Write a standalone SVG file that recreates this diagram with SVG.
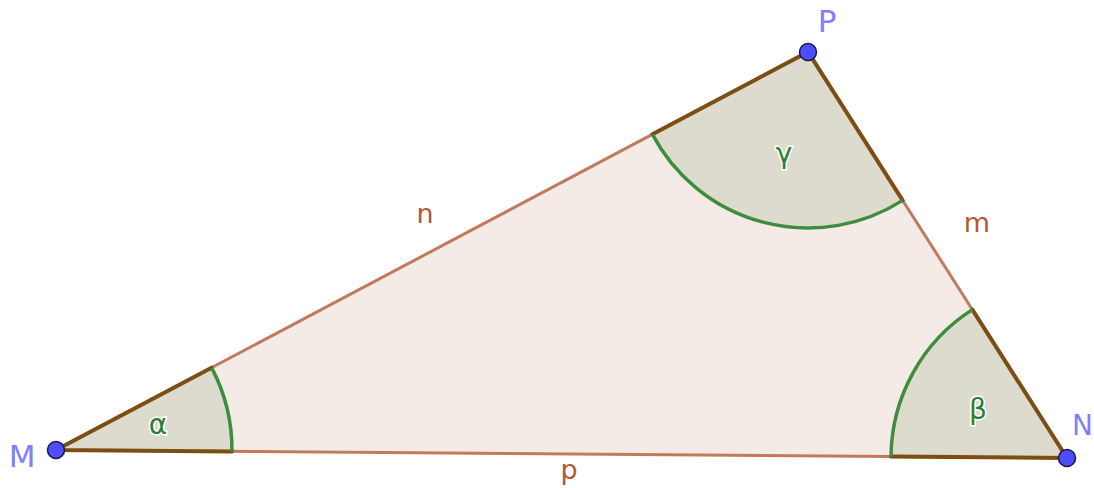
<svg xmlns="http://www.w3.org/2000/svg" width="1094" height="488" viewBox="0 0 1094 488">
<style>
.side{stroke:#c27a5c;stroke-width:3;fill:none;stroke-linecap:round}
.wedge{fill:#dcdbcd;stroke:none}
.leg{stroke:#7d4e14;stroke-width:4;fill:none;stroke-linecap:round}
.arc{stroke:#3e8d3e;stroke-width:3.5;fill:none}
.pt{fill:#4d4dff;stroke:#1a1a40;stroke-width:1.5}
.vl{font-family:"DejaVu Sans","Liberation Sans",sans-serif;font-size:31px;fill:#7f7fff}
.sl{font-family:"DejaVu Sans","Liberation Sans",sans-serif;font-size:27px;fill:#b05a30}
.gl{font-family:"DejaVu Sans","Liberation Sans",sans-serif;font-size:28px;fill:#2e7d32;stroke:#ffffff;stroke-width:3;paint-order:stroke}
</style>
<g id="triangle">
<polygon points="56,450 1067,458 808,52" fill="#f4ebe6" stroke="none"/>
</g>
<g id="connectors">
<line class="side" x1="56" y1="450" x2="1067" y2="458"/>
<line class="side" x1="1067" y1="458" x2="808" y2="52"/>
<line class="side" x1="808" y1="52" x2="56" y2="450"/>
</g>
<g id="angle-alpha">
<path class="wedge" d="M56,450 L231.99,451.39 A176,176 0 0 0 211.56,367.67 Z"/>
<path class="leg" d="M231.99,451.39 L56,450 L211.56,367.67"/>
<path class="arc" d="M231.99,451.39 A176,176 0 0 0 211.56,367.67"/>
<text class="gl" x="158" y="434" text-anchor="middle">α</text>
</g>
<g id="angle-beta">
<path class="wedge" d="M1067,458 L891.01,456.61 A176,176 0 0 1 972.35,309.62 Z"/>
<path class="leg" d="M891.01,456.61 L1067,458 L972.35,309.62"/>
<path class="arc" d="M891.01,456.61 A176,176 0 0 1 972.35,309.62"/>
<text class="gl" x="978" y="419" text-anchor="middle">β</text>
</g>
<g id="angle-gamma">
<path class="wedge" d="M808,52 L652.44,134.33 A176,176 0 0 0 902.65,200.38 Z"/>
<path class="leg" d="M652.44,134.33 L808,52 L902.65,200.38"/>
<path class="arc" d="M652.44,134.33 A176,176 0 0 0 902.65,200.38"/>
<text class="gl" x="784" y="163" text-anchor="middle">γ</text>
</g>
<g id="side-labels">
<text class="sl" x="425" y="223" text-anchor="middle">n</text>
<text class="sl" x="977" y="232" text-anchor="middle">m</text>
<text class="sl" x="569" y="479" text-anchor="middle">p</text>
</g>
<g id="M">
<circle class="pt" cx="56" cy="450" r="8.5"/>
<text class="vl" x="22" y="467" text-anchor="middle">M</text>
</g>
<g id="N">
<circle class="pt" cx="1067" cy="458" r="8.5"/>
<text class="vl" x="1072" y="435" style="font-size:28px">N</text>
</g>
<g id="P">
<circle class="pt" cx="808" cy="52" r="8.5"/>
<text class="vl" x="827" y="32" text-anchor="middle">P</text>
</g>
</svg>
